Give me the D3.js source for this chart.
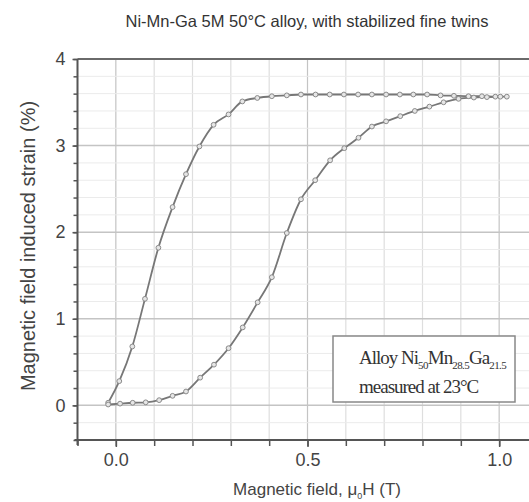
<!DOCTYPE html>
<html>
<head>
<meta charset="utf-8">
<script src="https://cdn.jsdelivr.net/npm/d3@7/dist/d3.min.js"></script>
<style>
  html, body { margin: 0; padding: 0; background: #fff; overflow: hidden; }
  svg { display: block; font-family: Arial, "Liberation Sans", sans-serif; }
  .tick text { fill: #444; }
</style>
</head>
<body>
<div id="chart"></div>
<script>
// upper branch (strain rises early)
const upperField = [-0.02, 0.009, 0.043, 0.076, 0.111, 0.148, 0.183, 0.218, 0.255, 0.294, 0.330, 0.369, 0.407, 0.446,
  0.483, 0.521, 0.558, 0.595, 0.632, 0.668, 0.705, 0.741, 0.776, 0.812, 0.847, 0.882, 0.920, 0.955, 0.990, 1.020];
const upperStrain = [0.03, 0.28, 0.68, 1.23, 1.82, 2.29, 2.67, 2.99, 3.24, 3.36, 3.51, 3.55, 3.57, 3.58,
  3.59, 3.59, 3.59, 3.59, 3.59, 3.59, 3.59, 3.59, 3.59, 3.59, 3.58, 3.575, 3.57, 3.57, 3.565, 3.565];

// lower branch (strain rises late)
const lowerField = [-0.02, 0.011, 0.044, 0.078, 0.113, 0.148, 0.183, 0.220, 0.256, 0.294, 0.331, 0.370, 0.407, 0.446,
  0.483, 0.520, 0.559, 0.596, 0.633, 0.668, 0.705, 0.742, 0.780, 0.818, 0.855, 0.894, 0.934, 0.968, 1.003];
const lowerStrain = [0.01, 0.02, 0.03, 0.035, 0.06, 0.11, 0.16, 0.32, 0.47, 0.66, 0.90, 1.19, 1.48, 1.99,
  2.38, 2.60, 2.83, 2.97, 3.09, 3.22, 3.28, 3.34, 3.40, 3.45, 3.50, 3.54, 3.555, 3.56, 3.565];

const xTicks = [0, 0.5, 1.0];
const xTickLabels = ['0.0', '0.5', '1.0'];
const yTicks = [0, 1, 2, 3, 4];
const yTickLabels = ['0', '1', '2', '3', '4'];

const W = 529, H = 502;
const margin = { top: 59, left: 77.5 };
const width = 460, height = 381;

const svg = d3.select('#chart').append('svg')
  .attr('width', W)
  .attr('height', H);

svg.append('rect').attr('width', W).attr('height', H).attr('fill', '#fff');

const chart = svg.append('g')
  .attr('transform', `translate(${margin.left},${margin.top})`);

const x = d3.scaleLinear().domain([-0.1, 1.1]).range([0, width]);
const y = d3.scaleLinear().domain([-0.4, 4]).range([height, 0]);

const xMinor = d3.range(-1, 12).map(i => i / 10);
const yMinor = d3.range(-2, 21).map(i => i / 5);
const isMajor = (ticks, d) => ticks.some(t => Math.abs(t - d) < 1e-6);

// grid
const grid = chart.append('g').attr('class', 'grid');
grid.selectAll('.vmin').data(xMinor).join('line')
  .attr('x1', d => x(d)).attr('x2', d => x(d))
  .attr('y1', 0).attr('y2', height)
  .attr('stroke', d => isMajor(xTicks, d) ? '#c4c4c4' : '#dedede')
  .attr('stroke-width', 1.2);
grid.selectAll('.hmin').data(yMinor).join('line')
  .attr('x1', 0).attr('x2', width)
  .attr('y1', d => y(d)).attr('y2', d => y(d))
  .attr('stroke', d => isMajor(yTicks, d) ? '#c4c4c4' : '#ebebeb')
  .attr('stroke-width', d => isMajor(yTicks, d) ? 1.5 : 1);

// top frame line
chart.append('line')
  .attr('x1', 0).attr('x2', width).attr('y1', 0).attr('y2', 0)
  .attr('stroke', '#6a6a6a').attr('stroke-width', 2);

// axes
const xAxis = d3.axisBottom(x).tickValues(xTicks).tickFormat((d, i) => xTickLabels[i])
  .tickSize(7).tickPadding(6);
const xAxisMinor = d3.axisBottom(x).tickValues(xMinor).tickFormat('').tickSize(6);
const yAxis = d3.axisLeft(y).tickValues(yTicks).tickFormat((d, i) => yTickLabels[i])
  .tickSize(5).tickPadding(7);
const yAxisMinor = d3.axisLeft(y).tickValues(yMinor).tickFormat('').tickSize(4);

function styleAxis(g) {
  g.select('.domain').remove();
  g.selectAll('.tick line').attr('stroke', '#555').attr('stroke-width', 1.5);
  g.selectAll('.tick text').style('font-size', '18px').attr('fill', '#444');
}

chart.append('g').attr('transform', `translate(0,${height})`).call(xAxisMinor).call(styleAxis);
chart.append('g').attr('transform', `translate(0,${height})`).call(xAxis).call(styleAxis);
chart.append('g').call(yAxisMinor).call(styleAxis);
chart.append('g').call(yAxis).call(styleAxis);

chart.append('line')
  .attr('x1', -3).attr('x2', width).attr('y1', height).attr('y2', height)
  .attr('stroke', '#555').attr('stroke-width', 2);
chart.append('line')
  .attr('x1', 0).attr('x2', 0).attr('y1', 0).attr('y2', height + 5)
  .attr('stroke', '#555').attr('stroke-width', 2);

// curves
const series = [
  upperField.map((f, i) => ({ f, s: upperStrain[i] })),
  lowerField.map((f, i) => ({ f, s: lowerStrain[i] }))
];

const line = d3.line().x(d => x(d.f)).y(d => y(d.s)).curve(d3.curveMonotoneX);

chart.selectAll('.branch').data(series).join('path')
  .attr('class', 'branch')
  .attr('d', line)
  .attr('fill', 'none')
  .attr('stroke', '#777')
  .attr('stroke-width', 1.8);

chart.selectAll('.pts').data(series).join('g')
  .attr('class', 'pts')
  .selectAll('circle').data(d => d).join('circle')
  .attr('cx', d => x(d.f))
  .attr('cy', d => y(d.s))
  .attr('r', 2.4)
  .attr('fill', '#e6e6e6')
  .attr('stroke', '#8a8a8a')
  .attr('stroke-width', 1);

// legend box
const legend = svg.append('g').attr('transform', 'translate(333,336)');
legend.append('rect')
  .attr('width', 182).attr('height', 66)
  .attr('fill', '#fff')
  .attr('stroke', '#888').attr('stroke-width', 1.5);

const serif = '"Liberation Serif", "Times New Roman", serif';
const lt1 = legend.append('text')
  .attr('x', 26).attr('y', 28)
  .attr('font-family', serif)
  .attr('font-size', 19).attr('fill', '#333')
  .attr('letter-spacing', -1);
lt1.append('tspan').text('Alloy Ni');
lt1.append('tspan').attr('dy', 5).attr('font-size', 11).attr('letter-spacing', -0.6).text('50');
lt1.append('tspan').attr('dy', -5).text('Mn');
lt1.append('tspan').attr('dy', 5).attr('font-size', 11).attr('letter-spacing', -0.6).text('28.5');
lt1.append('tspan').attr('dy', -5).text('Ga');
lt1.append('tspan').attr('dy', 5).attr('font-size', 11).attr('letter-spacing', -0.6).text('21.5');

legend.append('text')
  .attr('x', 26).attr('y', 57)
  .attr('font-family', serif)
  .attr('font-size', 19).attr('fill', '#333')
  .attr('letter-spacing', -1)
  .text('measured at 23°C');

// title
svg.append('text')
  .attr('x', 307).attr('y', 27)
  .attr('text-anchor', 'middle')
  .attr('font-size', 16.5).attr('fill', '#333')
  .text('Ni-Mn-Ga 5M 50°C alloy, with stabilized fine twins');

// axis labels
const xl = svg.append('text')
  .attr('x', 317).attr('y', 495)
  .attr('text-anchor', 'middle')
  .attr('font-size', 17).attr('fill', '#444');
xl.append('tspan').text('Magnetic field, μ');
xl.append('tspan').attr('dy', 4).attr('font-size', 9).text('0');
xl.append('tspan').attr('dy', -4).text('H (T)');

svg.append('text')
  .attr('transform', 'rotate(-90)')
  .attr('x', -246).attr('y', 35)
  .attr('text-anchor', 'middle')
  .attr('font-size', 20).attr('fill', '#444')
  .text('Magnetic field induced strain (%)');
</script>
</body>
</html>
